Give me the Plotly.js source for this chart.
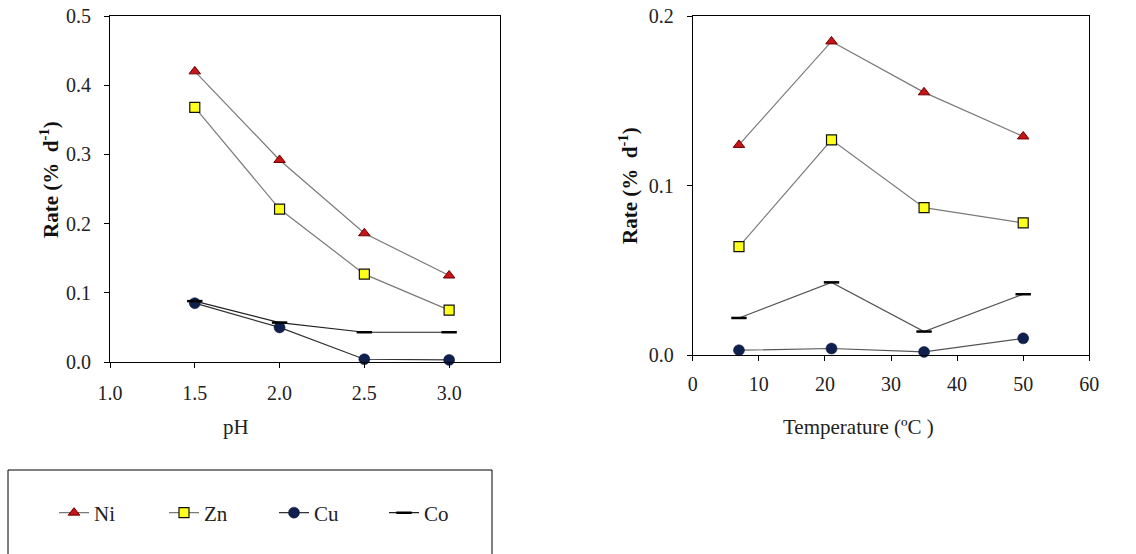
<!DOCTYPE html>
<html>
<head>
<meta charset="utf-8">
<script src="https://cdn.plot.ly/plotly-3.0.1.min.js"></script>
</head>
<body style="margin:0;background:#fff">
<div id="chart" style="width:1136px;height:554px"></div>
<script>
// ---- data ----
const pH = [1.5, 2.0, 2.5, 3.0];
const pH_Ni = [0.420, 0.292, 0.186, 0.125];
const pH_Zn = [0.368, 0.221, 0.127, 0.075];
const pH_Cu = [0.085, 0.050, 0.004, 0.003];
const pH_Co = [0.088, 0.057, 0.043, 0.043];

const temp = [7, 21, 35, 50];
const T_Ni = [0.124, 0.185, 0.155, 0.129];
const T_Zn = [0.064, 0.127, 0.087, 0.078];
const T_Cu = [0.003, 0.004, 0.002, 0.010];
const T_Co = [0.022, 0.043, 0.014, 0.036];

const seriesNames = ['Ni', 'Zn', 'Cu', 'Co'];
const pHTicks = [1.0, 1.5, 2.0, 2.5, 3.0];
const pHTickText = ['1.0', '1.5', '2.0', '2.5', '3.0'];
const pHRateTicks = [0, 0.1, 0.2, 0.3, 0.4, 0.5];
const pHRateText = ['0.0', '0.1', '0.2', '0.3', '0.4', '0.5'];
const tempTicks = [0, 10, 20, 30, 40, 50, 60];
const tRateTicks = [0, 0.1, 0.2];
const tRateText = ['0.0', '0.1', '0.2'];

// ---- styles ----
const FONT = 'Liberation Serif';
const styles = {
  Ni: {marker: {symbol: 'triangle-up', size: 10, color: '#c81414', line: {color: '#6a0000', width: 1}}, line: {color: '#7a7a7a', width: 1.2}},
  Zn: {marker: {symbol: 'square', size: 10, color: '#ffff1e', line: {color: '#111', width: 1.2}}, line: {color: '#7a7a7a', width: 1.2}},
  Cu: {marker: {symbol: 'circle', size: 11, color: '#10204e', line: {color: '#0a1435', width: 0.5}}, line: {color: '#333', width: 1.2}},
  Co: {marker: {symbol: 'line-ew', size: 11, color: '#000', line: {color: '#000', width: 2.5}}, line: {color: '#222', width: 1.2}}
};
const leftData = {Ni: pH_Ni, Zn: pH_Zn, Cu: pH_Cu, Co: pH_Co};
const rightData = {Ni: T_Ni, Zn: T_Zn, Cu: T_Cu, Co: T_Co};

const traces = [];
seriesNames.forEach(n => {
  traces.push({x: pH, y: leftData[n], name: n, type: 'scatter', mode: 'lines+markers',
    xaxis: 'x', yaxis: 'y', marker: styles[n].marker, line: styles[n].line, showlegend: true, cliponaxis: false});
});
seriesNames.forEach(n => {
  const ln = Object.assign({}, styles[n].line);
  if (n === 'Co' || n === 'Cu') ln.color = '#555';
  traces.push({x: temp, y: rightData[n], name: n, type: 'scatter', mode: 'lines+markers',
    xaxis: 'x2', yaxis: 'y2', marker: styles[n].marker, line: ln, showlegend: false, cliponaxis: false});
});

const W = 1136, H = 554;
const px = v => v / W, py = v => (H - v) / H;

function axisBase() {
  return {
    showline: true, linecolor: '#000', linewidth: 1, mirror: true,
    ticks: 'outside', ticklen: 5, tickwidth: 1, tickcolor: '#000',
    showgrid: false, zeroline: false, automargin: false,
    tickfont: {family: FONT, size: 20, color: '#222'}
  };
}

const layout = {
  width: W, height: H,
  margin: {l: 0, r: 0, t: 0, b: 0},
  paper_bgcolor: '#fff', plot_bgcolor: '#fff',
  xaxis: Object.assign(axisBase(), {domain: [px(110), px(500)], range: [1.0, 3.3],
    tickvals: pHTicks, ticktext: pHTickText, anchor: 'y', ticklabelstandoff: 8}),
  yaxis: Object.assign(axisBase(), {domain: [py(362), py(16)], range: [0, 0.5],
    tickvals: pHRateTicks, ticktext: pHRateText, anchor: 'x', ticklabelstandoff: 9}),
  xaxis2: Object.assign(axisBase(), {domain: [px(692.7), px(1089.3)], range: [0, 60],
    tickvals: tempTicks, anchor: 'y2', ticklabelstandoff: 6}),
  yaxis2: Object.assign(axisBase(), {domain: [py(355.3), py(16)], range: [0, 0.2],
    tickvals: tRateTicks, ticktext: tRateText, anchor: 'x2', ticklabelstandoff: 9}),
  showlegend: true,
  legend: {orientation: 'h', x: px(54), y: py(513), xanchor: 'left', yanchor: 'middle',
    font: {family: FONT, size: 21, color: '#222'}, entrywidth: 65, entrywidthmode: 'pixels',
    bgcolor: 'rgba(0,0,0,0)', borderwidth: 0},
  shapes: [
    {type: 'rect', xref: 'paper', yref: 'paper', x0: px(8), x1: px(492), y0: py(600), y1: py(470),
     line: {color: '#000', width: 1}, fillcolor: 'rgba(0,0,0,0)'}
  ],
  annotations: [
    {text: 'pH', xref: 'paper', yref: 'paper', x: px(236), y: py(427), xanchor: 'center', yanchor: 'middle',
     showarrow: false, font: {family: FONT, size: 21, color: '#222'}},
    {text: 'Temperature (ºC )', xref: 'paper', yref: 'paper', x: px(858), y: py(427), xanchor: 'center', yanchor: 'middle',
     showarrow: false, font: {family: FONT, size: 21, color: '#222'}},
    {text: '<b>Rate (%  d<sup>-1</sup>)</b>', xref: 'paper', yref: 'paper', x: px(50), y: py(180), xanchor: 'center', yanchor: 'middle',
     textangle: -90, showarrow: false, font: {family: FONT, size: 21, color: '#111'}},
    {text: '<b>Rate (%  d<sup>-1</sup>)</b>', xref: 'paper', yref: 'paper', x: px(628), y: py(186), xanchor: 'center', yanchor: 'middle',
     textangle: -90, showarrow: false, font: {family: FONT, size: 21, color: '#111'}}
  ]
};

Plotly.newPlot('chart', traces, layout, {displayModeBar: false});
</script>
</body>
</html>
